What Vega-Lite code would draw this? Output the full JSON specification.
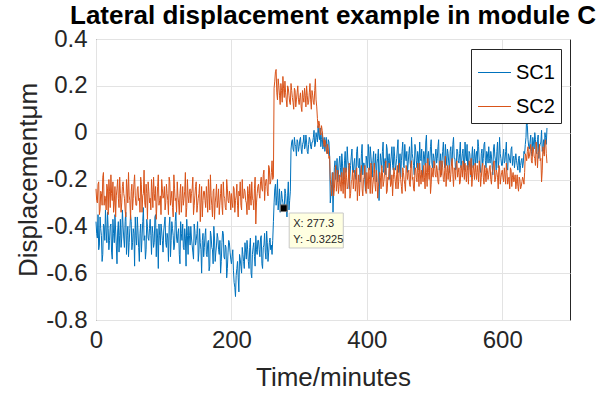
{
  "$schema": "https://vega.github.io/schema/vega-lite/v6.json",
  "width": 474,
  "height": 281,
  "autosize": {"type": "none"},
  "padding": {"left": 96, "top": 39, "right": 44, "bottom": 73},
  "background": "white",
  "title": {"text": "Lateral displacement example in module C", "font": "Liberation Sans", "fontSize": 26, "fontWeight": "bold", "color": "#000000", "anchor": "middle", "offset": -2},
  "config": {
    "view": {"stroke": "#262626", "strokeWidth": 1},
    "axis": {"labelFont": "Liberation Sans", "titleFont": "Liberation Sans", "labelFontSize": 24, "titleFontSize": 26, "titleFontWeight": "normal", "labelColor": "#262626", "titleColor": "#262626", "gridColor": "#e3e3e3", "gridWidth": 1, "domain": false, "ticks": false, "labelFlush": false},
    "legend": {"labelFont": "Liberation Sans"}
  },
  "layer": [
    {
      "data": {"values": [
{"t":0,"SC1":-0.38,"SC2":-0.24},{"t":2,"SC1":-0.45,"SC2":-0.30},{"t":4,"SC1":-0.50,"SC2":-0.21},{"t":6,"SC1":-0.36,"SC2":-0.33},{"t":8,"SC1":-0.44,"SC2":-0.26},{"t":10,"SC1":-0.52,"SC2":-0.19},{"t":12,"SC1":-0.40,"SC2":-0.31},{"t":14,"SC1":-0.33,"SC2":-0.28},{"t":16,"SC1":-0.47,"SC2":-0.22},{"t":18,"SC1":-0.41,"SC2":-0.35},
{"t":20,"SC1":-0.46,"SC2":-0.25},{"t":22,"SC1":-0.39,"SC2":-0.18},{"t":24,"SC1":-0.54,"SC2":-0.29},{"t":26,"SC1":-0.43,"SC2":-0.34},{"t":28,"SC1":-0.35,"SC2":-0.23},{"t":30,"SC1":-0.48,"SC2":-0.27},{"t":32,"SC1":-0.42,"SC2":-0.20},{"t":34,"SC1":-0.51,"SC2":-0.32},{"t":36,"SC1":-0.37,"SC2":-0.26},{"t":38,"SC1":-0.45,"SC2":-0.30},
{"t":40,"SC1":-0.40,"SC2":-0.21},{"t":42,"SC1":-0.49,"SC2":-0.28},{"t":44,"SC1":-0.34,"SC2":-0.36},{"t":46,"SC1":-0.44,"SC2":-0.24},{"t":48,"SC1":-0.53,"SC2":-0.17},{"t":50,"SC1":-0.41,"SC2":-0.29},{"t":52,"SC1":-0.38,"SC2":-0.25},{"t":54,"SC1":-0.47,"SC2":-0.33},{"t":56,"SC1":-0.43,"SC2":-0.22},{"t":58,"SC1":-0.36,"SC2":-0.27},
{"t":60,"SC1":-0.48,"SC2":-0.31},{"t":62,"SC1":-0.42,"SC2":-0.23},{"t":64,"SC1":-0.55,"SC2":-0.28},{"t":66,"SC1":-0.39,"SC2":-0.19},{"t":68,"SC1":-0.45,"SC2":-0.34},{"t":70,"SC1":-0.32,"SC2":-0.26},{"t":72,"SC1":-0.44,"SC2":-0.30},{"t":74,"SC1":-0.50,"SC2":-0.22},{"t":76,"SC1":-0.40,"SC2":-0.37},{"t":78,"SC1":-0.46,"SC2":-0.25},
{"t":80,"SC1":-0.37,"SC2":-0.28},{"t":82,"SC1":-0.52,"SC2":-0.20},{"t":84,"SC1":-0.43,"SC2":-0.32},{"t":86,"SC1":-0.47,"SC2":-0.26},{"t":88,"SC1":-0.35,"SC2":-0.23},{"t":90,"SC1":-0.41,"SC2":-0.30},{"t":92,"SC1":-0.58,"SC2":-0.18},{"t":94,"SC1":-0.44,"SC2":-0.29},{"t":96,"SC1":-0.39,"SC2":-0.35},{"t":98,"SC1":-0.46,"SC2":-0.24},
{"t":100,"SC1":-0.42,"SC2":-0.27},{"t":102,"SC1":-0.36,"SC2":-0.33},{"t":104,"SC1":-0.49,"SC2":-0.22},{"t":106,"SC1":-0.45,"SC2":-0.29},{"t":108,"SC1":-0.40,"SC2":-0.19},{"t":110,"SC1":-0.53,"SC2":-0.31},{"t":112,"SC1":-0.38,"SC2":-0.25},{"t":114,"SC1":-0.44,"SC2":-0.36},{"t":116,"SC1":-0.48,"SC2":-0.24},{"t":118,"SC1":-0.34,"SC2":-0.28},
{"t":120,"SC1":-0.47,"SC2":-0.21},{"t":122,"SC1":-0.41,"SC2":-0.30},{"t":124,"SC1":-0.56,"SC2":-0.26},{"t":126,"SC1":-0.43,"SC2":-0.34},{"t":128,"SC1":-0.39,"SC2":-0.23},{"t":130,"SC1":-0.50,"SC2":-0.28},{"t":132,"SC1":-0.45,"SC2":-0.17},{"t":134,"SC1":-0.37,"SC2":-0.32},{"t":136,"SC1":-0.52,"SC2":-0.27},{"t":138,"SC1":-0.44,"SC2":-0.25},
{"t":140,"SC1":-0.40,"SC2":-0.30},{"t":142,"SC1":-0.48,"SC2":-0.24},{"t":144,"SC1":-0.54,"SC2":-0.35},{"t":146,"SC1":-0.42,"SC2":-0.27},{"t":148,"SC1":-0.46,"SC2":-0.21},{"t":150,"SC1":-0.38,"SC2":-0.31},{"t":152,"SC1":-0.51,"SC2":-0.26},{"t":154,"SC1":-0.47,"SC2":-0.38},{"t":156,"SC1":-0.60,"SC2":-0.23},{"t":158,"SC1":-0.43,"SC2":-0.29},
{"t":160,"SC1":-0.49,"SC2":-0.25},{"t":162,"SC1":-0.41,"SC2":-0.32},{"t":164,"SC1":-0.53,"SC2":-0.28},{"t":166,"SC1":-0.46,"SC2":-0.20},{"t":168,"SC1":-0.57,"SC2":-0.33},{"t":170,"SC1":-0.44,"SC2":-0.27},{"t":172,"SC1":-0.50,"SC2":-0.36},{"t":174,"SC1":-0.40,"SC2":-0.24},{"t":176,"SC1":-0.55,"SC2":-0.30},{"t":178,"SC1":-0.48,"SC2":-0.22},
{"t":180,"SC1":-0.45,"SC2":-0.29},{"t":182,"SC1":-0.52,"SC2":-0.35},{"t":184,"SC1":-0.60,"SC2":-0.26},{"t":186,"SC1":-0.47,"SC2":-0.31},{"t":188,"SC1":-0.43,"SC2":-0.21},{"t":190,"SC1":-0.54,"SC2":-0.28},{"t":192,"SC1":-0.49,"SC2":-0.33},{"t":194,"SC1":-0.58,"SC2":-0.24},{"t":196,"SC1":-0.46,"SC2":-0.30},{"t":198,"SC1":-0.51,"SC2":-0.27},
{"t":200,"SC1":-0.56,"SC2":-0.26},{"t":202,"SC1":-0.50,"SC2":-0.32},{"t":204,"SC1":-0.64,"SC2":-0.24},{"t":206,"SC1":-0.70,"SC2":-0.29},{"t":208,"SC1":-0.58,"SC2":-0.22},{"t":210,"SC1":-0.62,"SC2":-0.36},{"t":212,"SC1":-0.52,"SC2":-0.27},{"t":214,"SC1":-0.57,"SC2":-0.31},{"t":216,"SC1":-0.49,"SC2":-0.20},{"t":218,"SC1":-0.55,"SC2":-0.28},
{"t":220,"SC1":-0.47,"SC2":-0.25},{"t":222,"SC1":-0.54,"SC2":-0.30},{"t":224,"SC1":-0.50,"SC2":-0.23},{"t":226,"SC1":-0.58,"SC2":-0.33},{"t":228,"SC1":-0.45,"SC2":-0.27},{"t":230,"SC1":-0.62,"SC2":-0.21},{"t":232,"SC1":-0.49,"SC2":-0.29},{"t":234,"SC1":-0.53,"SC2":-0.24},{"t":236,"SC1":-0.44,"SC2":-0.39},{"t":238,"SC1":-0.52,"SC2":-0.26},
{"t":240,"SC1":-0.46,"SC2":-0.22},{"t":242,"SC1":-0.53,"SC2":-0.28},{"t":244,"SC1":-0.44,"SC2":-0.19},{"t":246,"SC1":-0.58,"SC2":-0.25},{"t":248,"SC1":-0.48,"SC2":-0.16},{"t":250,"SC1":-0.51,"SC2":-0.23},{"t":252,"SC1":-0.42,"SC2":-0.20},{"t":254,"SC1":-0.55,"SC2":-0.27},{"t":256,"SC1":-0.47,"SC2":-0.15},{"t":258,"SC1":-0.50,"SC2":-0.21},
{"t":260,"SC1":-0.52,"SC2":-0.12},{"t":262,"SC1":-0.38,"SC2":-0.19},{"t":264,"SC1":-0.24,"SC2":0.22},{"t":266,"SC1":-0.31,"SC2":0.27},{"t":268,"SC1":-0.20,"SC2":0.14},{"t":270,"SC1":-0.29,"SC2":0.20},{"t":272,"SC1":-0.34,"SC2":0.12},{"t":274,"SC1":-0.25,"SC2":0.18},{"t":276,"SC1":-0.30,"SC2":0.24},{"t":278,"SC1":-0.33,"SC2":0.15},
{"t":280,"SC1":-0.26,"SC2":0.17},{"t":282,"SC1":-0.36,"SC2":0.11},{"t":284,"SC1":-0.21,"SC2":0.19},{"t":286,"SC1":-0.29,"SC2":0.13},{"t":288,"SC1":-0.07,"SC2":0.21},{"t":290,"SC1":-0.03,"SC2":0.15},{"t":292,"SC1":-0.08,"SC2":0.10},{"t":294,"SC1":-0.05,"SC2":0.18},{"t":296,"SC1":-0.10,"SC2":0.14},{"t":298,"SC1":-0.04,"SC2":0.20},
{"t":300,"SC1":-0.06,"SC2":0.12},{"t":302,"SC1":-0.02,"SC2":0.17},{"t":304,"SC1":-0.09,"SC2":0.09},{"t":306,"SC1":-0.04,"SC2":0.15},{"t":308,"SC1":-0.07,"SC2":0.19},{"t":310,"SC1":-0.01,"SC2":0.11},{"t":312,"SC1":-0.08,"SC2":0.16},{"t":314,"SC1":-0.05,"SC2":0.13},{"t":316,"SC1":-0.03,"SC2":0.21},{"t":318,"SC1":-0.07,"SC2":0.10},
{"t":320,"SC1":-0.04,"SC2":0.16},{"t":322,"SC1":0.01,"SC2":0.12},{"t":324,"SC1":-0.05,"SC2":0.23},{"t":326,"SC1":-0.02,"SC2":0.11},{"t":328,"SC1":0.03,"SC2":0.02},{"t":330,"SC1":-0.03,"SC2":0.04},{"t":332,"SC1":-0.06,"SC2":-0.01},{"t":334,"SC1":0.00,"SC2":0.01},{"t":336,"SC1":-0.05,"SC2":-0.04},{"t":338,"SC1":-0.08,"SC2":-0.03},
{"t":340,"SC1":-0.02,"SC2":-0.07},{"t":342,"SC1":-0.09,"SC2":-0.05},{"t":344,"SC1":-0.04,"SC2":-0.11},{"t":346,"SC1":-0.30,"SC2":-0.20},{"t":348,"SC1":-0.22,"SC2":-0.27},{"t":350,"SC1":-0.34,"SC2":-0.17},{"t":352,"SC1":-0.15,"SC2":-0.24},{"t":354,"SC1":-0.20,"SC2":-0.14},{"t":356,"SC1":-0.11,"SC2":-0.22},{"t":358,"SC1":-0.18,"SC2":-0.26},
{"t":360,"SC1":-0.10,"SC2":-0.18},{"t":362,"SC1":-0.19,"SC2":-0.25},{"t":364,"SC1":-0.13,"SC2":-0.21},{"t":366,"SC1":-0.22,"SC2":-0.15},{"t":368,"SC1":-0.08,"SC2":-0.28},{"t":370,"SC1":-0.16,"SC2":-0.19},{"t":372,"SC1":-0.12,"SC2":-0.23},{"t":374,"SC1":-0.24,"SC2":-0.13},{"t":376,"SC1":-0.14,"SC2":-0.26},{"t":378,"SC1":-0.07,"SC2":-0.20},
{"t":380,"SC1":-0.17,"SC2":-0.24},{"t":382,"SC1":-0.11,"SC2":-0.16},{"t":384,"SC1":-0.20,"SC2":-0.22},{"t":386,"SC1":-0.06,"SC2":-0.29},{"t":388,"SC1":-0.15,"SC2":-0.18},{"t":390,"SC1":-0.21,"SC2":-0.21},{"t":392,"SC1":-0.09,"SC2":-0.14},{"t":394,"SC1":-0.18,"SC2":-0.27},{"t":396,"SC1":-0.13,"SC2":-0.19},{"t":398,"SC1":-0.25,"SC2":-0.23},
{"t":400,"SC1":-0.12,"SC2":-0.17},{"t":402,"SC1":-0.05,"SC2":-0.24},{"t":404,"SC1":-0.16,"SC2":-0.20},{"t":406,"SC1":-0.10,"SC2":-0.13},{"t":408,"SC1":-0.19,"SC2":-0.26},{"t":410,"SC1":-0.08,"SC2":-0.19},{"t":412,"SC1":-0.14,"SC2":-0.22},{"t":414,"SC1":-0.21,"SC2":-0.16},{"t":416,"SC1":-0.11,"SC2":-0.28},{"t":418,"SC1":-0.29,"SC2":-0.21},
{"t":420,"SC1":-0.09,"SC2":-0.19},{"t":422,"SC1":-0.15,"SC2":-0.14},{"t":424,"SC1":-0.04,"SC2":-0.23},{"t":426,"SC1":-0.13,"SC2":-0.18},{"t":428,"SC1":-0.18,"SC2":-0.12},{"t":430,"SC1":-0.07,"SC2":-0.25},{"t":432,"SC1":-0.12,"SC2":-0.20},{"t":434,"SC1":-0.20,"SC2":-0.16},{"t":436,"SC1":-0.10,"SC2":-0.22},{"t":438,"SC1":-0.14,"SC2":-0.27},
{"t":440,"SC1":-0.06,"SC2":-0.15},{"t":442,"SC1":-0.16,"SC2":-0.21},{"t":444,"SC1":-0.11,"SC2":-0.18},{"t":446,"SC1":-0.03,"SC2":-0.24},{"t":448,"SC1":-0.13,"SC2":-0.13},{"t":450,"SC1":-0.19,"SC2":-0.20},{"t":452,"SC1":-0.08,"SC2":-0.26},{"t":454,"SC1":-0.14,"SC2":-0.17},{"t":456,"SC1":-0.05,"SC2":-0.22},{"t":458,"SC1":-0.12,"SC2":-0.14},
{"t":460,"SC1":-0.17,"SC2":-0.20},{"t":462,"SC1":-0.09,"SC2":-0.16},{"t":464,"SC1":-0.13,"SC2":-0.23},{"t":466,"SC1":-0.02,"SC2":-0.12},{"t":468,"SC1":-0.11,"SC2":-0.19},{"t":470,"SC1":-0.18,"SC2":-0.25},{"t":472,"SC1":-0.07,"SC2":-0.15},{"t":474,"SC1":-0.15,"SC2":-0.21},{"t":476,"SC1":-0.10,"SC2":-0.17},{"t":478,"SC1":-0.04,"SC2":-0.13},
{"t":480,"SC1":-0.12,"SC2":-0.22},{"t":482,"SC1":-0.19,"SC2":-0.18},{"t":484,"SC1":-0.08,"SC2":-0.14},{"t":486,"SC1":-0.14,"SC2":-0.24},{"t":488,"SC1":-0.01,"SC2":-0.17},{"t":490,"SC1":-0.10,"SC2":-0.11},{"t":492,"SC1":-0.16,"SC2":-0.20},{"t":494,"SC1":-0.06,"SC2":-0.26},{"t":496,"SC1":-0.13,"SC2":-0.15},{"t":498,"SC1":-0.09,"SC2":-0.19},
{"t":500,"SC1":-0.15,"SC2":-0.13},{"t":502,"SC1":-0.07,"SC2":-0.19},{"t":504,"SC1":-0.11,"SC2":-0.16},{"t":506,"SC1":-0.03,"SC2":-0.22},{"t":508,"SC1":-0.13,"SC2":-0.12},{"t":510,"SC1":-0.18,"SC2":-0.18},{"t":512,"SC1":-0.08,"SC2":-0.15},{"t":514,"SC1":-0.12,"SC2":-0.21},{"t":516,"SC1":-0.05,"SC2":-0.10},{"t":518,"SC1":-0.14,"SC2":-0.17},
{"t":520,"SC1":-0.09,"SC2":-0.20},{"t":522,"SC1":-0.17,"SC2":-0.14},{"t":524,"SC1":-0.06,"SC2":-0.18},{"t":526,"SC1":-0.12,"SC2":-0.11},{"t":528,"SC1":-0.02,"SC2":-0.23},{"t":530,"SC1":-0.11,"SC2":-0.16},{"t":532,"SC1":-0.15,"SC2":-0.13},{"t":534,"SC1":-0.08,"SC2":-0.19},{"t":536,"SC1":-0.13,"SC2":-0.15},{"t":538,"SC1":-0.04,"SC2":-0.21},
{"t":540,"SC1":-0.12,"SC2":-0.16},{"t":542,"SC1":-0.07,"SC2":-0.12},{"t":544,"SC1":-0.16,"SC2":-0.20},{"t":546,"SC1":-0.10,"SC2":-0.17},{"t":548,"SC1":-0.05,"SC2":-0.14},{"t":550,"SC1":-0.14,"SC2":-0.22},{"t":552,"SC1":-0.09,"SC2":-0.15},{"t":554,"SC1":-0.19,"SC2":-0.11},{"t":556,"SC1":-0.06,"SC2":-0.19},{"t":558,"SC1":-0.11,"SC2":-0.16},
{"t":560,"SC1":-0.14,"SC2":-0.13},{"t":562,"SC1":-0.08,"SC2":-0.20},{"t":564,"SC1":-0.03,"SC2":-0.17},{"t":566,"SC1":-0.12,"SC2":-0.12},{"t":568,"SC1":-0.17,"SC2":-0.23},{"t":570,"SC1":-0.07,"SC2":-0.15},{"t":572,"SC1":-0.11,"SC2":-0.19},{"t":574,"SC1":-0.04,"SC2":-0.14},{"t":576,"SC1":-0.15,"SC2":-0.21},{"t":578,"SC1":-0.09,"SC2":-0.16},
{"t":580,"SC1":-0.06,"SC2":-0.18},{"t":582,"SC1":-0.13,"SC2":-0.14},{"t":584,"SC1":-0.10,"SC2":-0.22},{"t":586,"SC1":-0.18,"SC2":-0.16},{"t":588,"SC1":-0.05,"SC2":-0.12},{"t":590,"SC1":-0.12,"SC2":-0.20},{"t":592,"SC1":-0.08,"SC2":-0.17},{"t":594,"SC1":-0.15,"SC2":-0.24},{"t":596,"SC1":-0.02,"SC2":-0.15},{"t":598,"SC1":-0.11,"SC2":-0.19},
{"t":600,"SC1":-0.14,"SC2":-0.16},{"t":602,"SC1":-0.07,"SC2":-0.21},{"t":604,"SC1":-0.12,"SC2":-0.18},{"t":606,"SC1":-0.04,"SC2":-0.13},{"t":608,"SC1":-0.16,"SC2":-0.22},{"t":610,"SC1":-0.10,"SC2":-0.19},{"t":612,"SC1":-0.13,"SC2":-0.15},{"t":614,"SC1":-0.06,"SC2":-0.23},{"t":616,"SC1":-0.11,"SC2":-0.17},{"t":618,"SC1":-0.15,"SC2":-0.20},
{"t":620,"SC1":-0.09,"SC2":-0.24},{"t":622,"SC1":-0.14,"SC2":-0.18},{"t":624,"SC1":-0.11,"SC2":-0.25},{"t":626,"SC1":-0.17,"SC2":-0.20},{"t":628,"SC1":-0.12,"SC2":-0.23},{"t":630,"SC1":-0.15,"SC2":-0.19},{"t":632,"SC1":-0.08,"SC2":-0.22},{"t":634,"SC1":-0.05,"SC2":-0.09},{"t":636,"SC1":0.07,"SC2":-0.12},{"t":638,"SC1":-0.03,"SC2":-0.06},
{"t":640,"SC1":-0.07,"SC2":-0.10},{"t":642,"SC1":-0.01,"SC2":-0.05},{"t":644,"SC1":-0.10,"SC2":-0.13},{"t":646,"SC1":-0.04,"SC2":-0.07},{"t":648,"SC1":0.00,"SC2":-0.11},{"t":650,"SC1":-0.08,"SC2":-0.04},{"t":652,"SC1":-0.03,"SC2":-0.15},{"t":654,"SC1":-0.11,"SC2":-0.08},{"t":656,"SC1":-0.05,"SC2":-0.12},{"t":658,"SC1":0.01,"SC2":-0.21},
{"t":660,"SC1":-0.06,"SC2":-0.06},{"t":662,"SC1":-0.09,"SC2":-0.10},{"t":664,"SC1":-0.02,"SC2":-0.03},{"t":666,"SC1":0.02,"SC2":-0.13},
{"t":1,"SC1":-0.43,"SC2":-0.29},{"t":3,"SC1":-0.35,"SC2":-0.22},{"t":5,"SC1":-0.48,"SC2":-0.35},{"t":7,"SC1":-0.41,"SC2":-0.25},{"t":9,"SC1":-0.55,"SC2":-0.31},{"t":11,"SC1":-0.39,"SC2":-0.17},{"t":13,"SC1":-0.46,"SC2":-0.27},{"t":15,"SC1":-0.42,"SC2":-0.33},{"t":17,"SC1":-0.34,"SC2":-0.24},{"t":19,"SC1":-0.50,"SC2":-0.20},
{"t":21,"SC1":-0.40,"SC2":-0.32},{"t":23,"SC1":-0.51,"SC2":-0.26},{"t":25,"SC1":-0.37,"SC2":-0.21},{"t":27,"SC1":-0.47,"SC2":-0.30},{"t":29,"SC1":-0.42,"SC2":-0.36},{"t":31,"SC1":-0.56,"SC2":-0.24},{"t":33,"SC1":-0.38,"SC2":-0.28},{"t":35,"SC1":-0.44,"SC2":-0.19},{"t":37,"SC1":-0.49,"SC2":-0.34},{"t":39,"SC1":-0.33,"SC2":-0.23},
{"t":41,"SC1":-0.45,"SC2":-0.26},{"t":43,"SC1":-0.38,"SC2":-0.33},{"t":45,"SC1":-0.52,"SC2":-0.20},{"t":47,"SC1":-0.40,"SC2":-0.30},{"t":49,"SC1":-0.47,"SC2":-0.27},{"t":51,"SC1":-0.35,"SC2":-0.37},{"t":53,"SC1":-0.50,"SC2":-0.22},{"t":55,"SC1":-0.41,"SC2":-0.28},{"t":57,"SC1":-0.57,"SC2":-0.18},{"t":59,"SC1":-0.44,"SC2":-0.31},
{"t":61,"SC1":-0.36,"SC2":-0.24},{"t":63,"SC1":-0.49,"SC2":-0.29},{"t":65,"SC1":-0.43,"SC2":-0.34},{"t":67,"SC1":-0.51,"SC2":-0.22},{"t":69,"SC1":-0.38,"SC2":-0.27},{"t":71,"SC1":-0.46,"SC2":-0.16},{"t":73,"SC1":-0.54,"SC2":-0.32},{"t":75,"SC1":-0.37,"SC2":-0.26},{"t":77,"SC1":-0.45,"SC2":-0.21},{"t":79,"SC1":-0.41,"SC2":-0.30},
{"t":81,"SC1":-0.44,"SC2":-0.33},{"t":83,"SC1":-0.40,"SC2":-0.25},{"t":85,"SC1":-0.49,"SC2":-0.19},{"t":87,"SC1":-0.36,"SC2":-0.29},{"t":89,"SC1":-0.53,"SC2":-0.37},{"t":91,"SC1":-0.45,"SC2":-0.23},{"t":93,"SC1":-0.39,"SC2":-0.31},{"t":95,"SC1":-0.48,"SC2":-0.27},{"t":97,"SC1":-0.42,"SC2":-0.20},{"t":99,"SC1":-0.51,"SC2":-0.28},
{"t":101,"SC1":-0.39,"SC2":-0.23},{"t":103,"SC1":-0.47,"SC2":-0.30},{"t":105,"SC1":-0.43,"SC2":-0.26},{"t":107,"SC1":-0.55,"SC2":-0.35},{"t":109,"SC1":-0.36,"SC2":-0.21},{"t":111,"SC1":-0.46,"SC2":-0.28},{"t":113,"SC1":-0.41,"SC2":-0.32},{"t":115,"SC1":-0.50,"SC2":-0.18},{"t":117,"SC1":-0.38,"SC2":-0.29},{"t":119,"SC1":-0.45,"SC2":-0.34},
{"t":121,"SC1":-0.43,"SC2":-0.27},{"t":123,"SC1":-0.52,"SC2":-0.35},{"t":125,"SC1":-0.38,"SC2":-0.22},{"t":127,"SC1":-0.46,"SC2":-0.29},{"t":129,"SC1":-0.49,"SC2":-0.31},{"t":131,"SC1":-0.41,"SC2":-0.25},{"t":133,"SC1":-0.57,"SC2":-0.36},{"t":135,"SC1":-0.44,"SC2":-0.20},{"t":137,"SC1":-0.40,"SC2":-0.30},{"t":139,"SC1":-0.48,"SC2":-0.24},
{"t":141,"SC1":-0.45,"SC2":-0.26},{"t":143,"SC1":-0.51,"SC2":-0.19},{"t":145,"SC1":-0.39,"SC2":-0.31},{"t":147,"SC1":-0.48,"SC2":-0.23},{"t":149,"SC1":-0.43,"SC2":-0.34},{"t":151,"SC1":-0.55,"SC2":-0.28},{"t":153,"SC1":-0.41,"SC2":-0.22},{"t":155,"SC1":-0.50,"SC2":-0.30},{"t":157,"SC1":-0.46,"SC2":-0.36},{"t":159,"SC1":-0.53,"SC2":-0.25},
{"t":161,"SC1":-0.44,"SC2":-0.29},{"t":163,"SC1":-0.52,"SC2":-0.23},{"t":165,"SC1":-0.47,"SC2":-0.34},{"t":167,"SC1":-0.59,"SC2":-0.26},{"t":169,"SC1":-0.42,"SC2":-0.18},{"t":171,"SC1":-0.49,"SC2":-0.31},{"t":173,"SC1":-0.56,"SC2":-0.25},{"t":175,"SC1":-0.45,"SC2":-0.37},{"t":177,"SC1":-0.51,"SC2":-0.27},{"t":179,"SC1":-0.43,"SC2":-0.32},
{"t":181,"SC1":-0.50,"SC2":-0.24},{"t":183,"SC1":-0.46,"SC2":-0.30},{"t":185,"SC1":-0.55,"SC2":-0.22},{"t":187,"SC1":-0.42,"SC2":-0.35},{"t":189,"SC1":-0.53,"SC2":-0.27},{"t":191,"SC1":-0.48,"SC2":-0.32},{"t":193,"SC1":-0.62,"SC2":-0.20},{"t":195,"SC1":-0.51,"SC2":-0.29},{"t":197,"SC1":-0.47,"SC2":-0.25},{"t":199,"SC1":-0.54,"SC2":-0.33},
{"t":201,"SC1":-0.53,"SC2":-0.30},{"t":203,"SC1":-0.59,"SC2":-0.23},{"t":205,"SC1":-0.66,"SC2":-0.34},{"t":207,"SC1":-0.61,"SC2":-0.27},{"t":209,"SC1":-0.55,"SC2":-0.31},{"t":211,"SC1":-0.68,"SC2":-0.25},{"t":213,"SC1":-0.54,"SC2":-0.21},{"t":215,"SC1":-0.60,"SC2":-0.33},{"t":217,"SC1":-0.52,"SC2":-0.28},{"t":219,"SC1":-0.58,"SC2":-0.24},
{"t":221,"SC1":-0.51,"SC2":-0.29},{"t":223,"SC1":-0.46,"SC2":-0.35},{"t":225,"SC1":-0.55,"SC2":-0.26},{"t":227,"SC1":-0.49,"SC2":-0.22},{"t":229,"SC1":-0.60,"SC2":-0.31},{"t":231,"SC1":-0.52,"SC2":-0.28},{"t":233,"SC1":-0.47,"SC2":-0.33},{"t":235,"SC1":-0.57,"SC2":-0.19},{"t":237,"SC1":-0.50,"SC2":-0.30},{"t":239,"SC1":-0.46,"SC2":-0.23},
{"t":241,"SC1":-0.50,"SC2":-0.26},{"t":243,"SC1":-0.45,"SC2":-0.21},{"t":245,"SC1":-0.56,"SC2":-0.24},{"t":247,"SC1":-0.49,"SC2":-0.18},{"t":249,"SC1":-0.43,"SC2":-0.29},{"t":251,"SC1":-0.54,"SC2":-0.20},{"t":253,"SC1":-0.47,"SC2":-0.25},{"t":255,"SC1":-0.51,"SC2":-0.14},{"t":257,"SC1":-0.45,"SC2":-0.22},{"t":259,"SC1":-0.48,"SC2":-0.17},
{"t":261,"SC1":-0.46,"SC2":-0.20},{"t":263,"SC1":-0.30,"SC2":0.19},{"t":265,"SC1":-0.22,"SC2":0.26},{"t":267,"SC1":-0.27,"SC2":0.17},{"t":269,"SC1":-0.33,"SC2":0.23},{"t":271,"SC1":-0.24,"SC2":0.16},{"t":273,"SC1":-0.30,"SC2":0.21},{"t":275,"SC1":-0.28,"SC2":0.13},{"t":277,"SC1":-0.32,"SC2":0.19},{"t":279,"SC1":-0.24,"SC2":0.22},
{"t":281,"SC1":-0.31,"SC2":0.14},{"t":283,"SC1":-0.27,"SC2":0.20},{"t":285,"SC1":-0.33,"SC2":0.16},{"t":287,"SC1":-0.25,"SC2":0.12},{"t":289,"SC1":-0.04,"SC2":0.18},{"t":291,"SC1":-0.07,"SC2":0.13},{"t":293,"SC1":-0.02,"SC2":0.19},{"t":295,"SC1":-0.06,"SC2":0.11},{"t":297,"SC1":-0.03,"SC2":0.17},{"t":299,"SC1":-0.08,"SC2":0.14},
{"t":301,"SC1":-0.03,"SC2":0.15},{"t":303,"SC1":-0.07,"SC2":0.11},{"t":305,"SC1":-0.05,"SC2":0.18},{"t":307,"SC1":-0.01,"SC2":0.13},{"t":309,"SC1":-0.06,"SC2":0.16},{"t":311,"SC1":-0.04,"SC2":0.20},{"t":313,"SC1":-0.09,"SC2":0.12},{"t":315,"SC1":-0.02,"SC2":0.17},{"t":317,"SC1":-0.06,"SC2":0.14},{"t":319,"SC1":-0.04,"SC2":0.18},
{"t":321,"SC1":-0.02,"SC2":0.13},{"t":323,"SC1":-0.06,"SC2":0.18},{"t":325,"SC1":0.00,"SC2":0.14},{"t":327,"SC1":-0.04,"SC2":0.06},{"t":329,"SC1":-0.01,"SC2":0.05},{"t":331,"SC1":0.02,"SC2":0.00},{"t":333,"SC1":-0.03,"SC2":0.03},{"t":335,"SC1":-0.07,"SC2":-0.02},{"t":337,"SC1":-0.02,"SC2":-0.06},{"t":339,"SC1":-0.05,"SC2":-0.04},
{"t":341,"SC1":-0.07,"SC2":-0.09},{"t":343,"SC1":-0.03,"SC2":-0.07},{"t":345,"SC1":-0.10,"SC2":-0.10},{"t":347,"SC1":-0.26,"SC2":-0.23},{"t":349,"SC1":-0.17,"SC2":-0.21},{"t":351,"SC1":-0.23,"SC2":-0.27},{"t":353,"SC1":-0.12,"SC2":-0.19},{"t":355,"SC1":-0.16,"SC2":-0.25},{"t":357,"SC1":-0.21,"SC2":-0.16},{"t":359,"SC1":-0.13,"SC2":-0.23},
{"t":361,"SC1":-0.15,"SC2":-0.22},{"t":363,"SC1":-0.09,"SC2":-0.17},{"t":365,"SC1":-0.20,"SC2":-0.26},{"t":367,"SC1":-0.12,"SC2":-0.20},{"t":369,"SC1":-0.17,"SC2":-0.15},{"t":371,"SC1":-0.06,"SC2":-0.24},{"t":373,"SC1":-0.14,"SC2":-0.18},{"t":375,"SC1":-0.19,"SC2":-0.28},{"t":377,"SC1":-0.10,"SC2":-0.21},{"t":379,"SC1":-0.16,"SC2":-0.16},
{"t":381,"SC1":-0.13,"SC2":-0.19},{"t":383,"SC1":-0.18,"SC2":-0.25},{"t":385,"SC1":-0.08,"SC2":-0.15},{"t":387,"SC1":-0.14,"SC2":-0.22},{"t":389,"SC1":-0.11,"SC2":-0.27},{"t":391,"SC1":-0.17,"SC2":-0.17},{"t":393,"SC1":-0.05,"SC2":-0.24},{"t":395,"SC1":-0.13,"SC2":-0.20},{"t":397,"SC1":-0.20,"SC2":-0.14},{"t":399,"SC1":-0.10,"SC2":-0.26},
{"t":401,"SC1":-0.15,"SC2":-0.21},{"t":403,"SC1":-0.10,"SC2":-0.15},{"t":405,"SC1":-0.06,"SC2":-0.26},{"t":407,"SC1":-0.14,"SC2":-0.18},{"t":409,"SC1":-0.12,"SC2":-0.22},{"t":411,"SC1":-0.17,"SC2":-0.13},{"t":413,"SC1":-0.09,"SC2":-0.25},{"t":415,"SC1":-0.13,"SC2":-0.19},{"t":417,"SC1":-0.07,"SC2":-0.23},{"t":419,"SC1":-0.16,"SC2":-0.17},
{"t":421,"SC1":-0.12,"SC2":-0.24},{"t":423,"SC1":-0.08,"SC2":-0.17},{"t":425,"SC1":-0.17,"SC2":-0.21},{"t":427,"SC1":-0.11,"SC2":-0.15},{"t":429,"SC1":-0.05,"SC2":-0.26},{"t":431,"SC1":-0.15,"SC2":-0.19},{"t":433,"SC1":-0.09,"SC2":-0.13},{"t":435,"SC1":-0.13,"SC2":-0.23},{"t":437,"SC1":-0.06,"SC2":-0.18},{"t":439,"SC1":-0.16,"SC2":-0.20},
{"t":441,"SC1":-0.10,"SC2":-0.18},{"t":443,"SC1":-0.14,"SC2":-0.24},{"t":445,"SC1":-0.07,"SC2":-0.14},{"t":447,"SC1":-0.17,"SC2":-0.21},{"t":449,"SC1":-0.09,"SC2":-0.17},{"t":451,"SC1":-0.12,"SC2":-0.23},{"t":453,"SC1":-0.04,"SC2":-0.15},{"t":455,"SC1":-0.15,"SC2":-0.20},{"t":457,"SC1":-0.10,"SC2":-0.25},{"t":459,"SC1":-0.08,"SC2":-0.16},
{"t":461,"SC1":-0.13,"SC2":-0.17},{"t":463,"SC1":-0.06,"SC2":-0.22},{"t":465,"SC1":-0.15,"SC2":-0.14},{"t":467,"SC1":-0.09,"SC2":-0.20},{"t":469,"SC1":-0.14,"SC2":-0.24},{"t":471,"SC1":-0.05,"SC2":-0.16},{"t":473,"SC1":-0.12,"SC2":-0.19},{"t":475,"SC1":-0.08,"SC2":-0.13},{"t":477,"SC1":-0.16,"SC2":-0.23},{"t":479,"SC1":-0.11,"SC2":-0.18},
{"t":481,"SC1":-0.07,"SC2":-0.16},{"t":483,"SC1":-0.14,"SC2":-0.21},{"t":485,"SC1":-0.10,"SC2":-0.19},{"t":487,"SC1":-0.04,"SC2":-0.13},{"t":489,"SC1":-0.13,"SC2":-0.23},{"t":491,"SC1":-0.08,"SC2":-0.17},{"t":493,"SC1":-0.12,"SC2":-0.14},{"t":495,"SC1":-0.03,"SC2":-0.22},{"t":497,"SC1":-0.15,"SC2":-0.18},{"t":499,"SC1":-0.11,"SC2":-0.12},
{"t":501,"SC1":-0.10,"SC2":-0.18},{"t":503,"SC1":-0.13,"SC2":-0.14},{"t":505,"SC1":-0.06,"SC2":-0.21},{"t":507,"SC1":-0.16,"SC2":-0.15},{"t":509,"SC1":-0.09,"SC2":-0.19},{"t":511,"SC1":-0.12,"SC2":-0.12},{"t":513,"SC1":-0.04,"SC2":-0.20},{"t":515,"SC1":-0.15,"SC2":-0.16},{"t":517,"SC1":-0.10,"SC2":-0.23},{"t":519,"SC1":-0.07,"SC2":-0.14},
{"t":521,"SC1":-0.13,"SC2":-0.16},{"t":523,"SC1":-0.08,"SC2":-0.21},{"t":525,"SC1":-0.14,"SC2":-0.13},{"t":527,"SC1":-0.05,"SC2":-0.18},{"t":529,"SC1":-0.11,"SC2":-0.15},{"t":531,"SC1":-0.16,"SC2":-0.20},{"t":533,"SC1":-0.07,"SC2":-0.12},{"t":535,"SC1":-0.12,"SC2":-0.17},{"t":537,"SC1":-0.09,"SC2":-0.22},{"t":539,"SC1":-0.15,"SC2":-0.14},
{"t":541,"SC1":-0.09,"SC2":-0.19},{"t":543,"SC1":-0.14,"SC2":-0.15},{"t":545,"SC1":-0.04,"SC2":-0.13},{"t":547,"SC1":-0.12,"SC2":-0.21},{"t":549,"SC1":-0.16,"SC2":-0.16},{"t":551,"SC1":-0.08,"SC2":-0.12},{"t":553,"SC1":-0.13,"SC2":-0.18},{"t":555,"SC1":-0.10,"SC2":-0.23},{"t":557,"SC1":-0.15,"SC2":-0.14},{"t":559,"SC1":-0.07,"SC2":-0.20},
{"t":561,"SC1":-0.10,"SC2":-0.17},{"t":563,"SC1":-0.13,"SC2":-0.14},{"t":565,"SC1":-0.06,"SC2":-0.21},{"t":567,"SC1":-0.15,"SC2":-0.16},{"t":569,"SC1":-0.09,"SC2":-0.19},{"t":571,"SC1":-0.14,"SC2":-0.13},{"t":573,"SC1":-0.05,"SC2":-0.22},{"t":575,"SC1":-0.12,"SC2":-0.17},{"t":577,"SC1":-0.08,"SC2":-0.15},{"t":579,"SC1":-0.13,"SC2":-0.20},
{"t":581,"SC1":-0.11,"SC2":-0.15},{"t":583,"SC1":-0.08,"SC2":-0.20},{"t":585,"SC1":-0.14,"SC2":-0.17},{"t":587,"SC1":-0.07,"SC2":-0.13},{"t":589,"SC1":-0.10,"SC2":-0.21},{"t":591,"SC1":-0.16,"SC2":-0.16},{"t":593,"SC1":-0.04,"SC2":-0.19},{"t":595,"SC1":-0.12,"SC2":-0.14},{"t":597,"SC1":-0.09,"SC2":-0.22},{"t":599,"SC1":-0.14,"SC2":-0.17},
{"t":601,"SC1":-0.10,"SC2":-0.19},{"t":603,"SC1":-0.13,"SC2":-0.15},{"t":605,"SC1":-0.08,"SC2":-0.22},{"t":607,"SC1":-0.15,"SC2":-0.17},{"t":609,"SC1":-0.09,"SC2":-0.20},{"t":611,"SC1":-0.12,"SC2":-0.24},{"t":613,"SC1":-0.07,"SC2":-0.16},{"t":615,"SC1":-0.14,"SC2":-0.19},{"t":617,"SC1":-0.10,"SC2":-0.21},{"t":619,"SC1":-0.12,"SC2":-0.18},
{"t":621,"SC1":-0.12,"SC2":-0.21},{"t":623,"SC1":-0.16,"SC2":-0.23},{"t":625,"SC1":-0.10,"SC2":-0.19},{"t":627,"SC1":-0.14,"SC2":-0.24},{"t":629,"SC1":-0.11,"SC2":-0.21},{"t":631,"SC1":-0.13,"SC2":-0.20},{"t":633,"SC1":-0.09,"SC2":-0.17},{"t":635,"SC1":-0.02,"SC2":-0.10},{"t":637,"SC1":0.03,"SC2":-0.08},{"t":639,"SC1":-0.06,"SC2":-0.11},
{"t":641,"SC1":-0.04,"SC2":-0.08},{"t":643,"SC1":-0.08,"SC2":-0.12},{"t":645,"SC1":-0.02,"SC2":-0.06},{"t":647,"SC1":-0.07,"SC2":-0.10},{"t":649,"SC1":-0.03,"SC2":-0.14},{"t":651,"SC1":-0.09,"SC2":-0.07},{"t":653,"SC1":-0.01,"SC2":-0.09},{"t":655,"SC1":-0.06,"SC2":-0.05},{"t":657,"SC1":-0.04,"SC2":-0.11},{"t":659,"SC1":-0.08,"SC2":-0.16},{"t":661,"SC1":-0.03,"SC2":-0.08},{"t":663,"SC1":0.00,"SC2":-0.04},{"t":665,"SC1":-0.05,"SC2":-0.09}
      ]},
      "transform": [{"fold": ["SC1", "SC2"], "as": ["series", "value"]}],
      "mark": {"type": "line", "strokeWidth": 1, "interpolate": "linear"},
      "encoding": {
        "x": {"field": "t", "type": "quantitative", "scale": {"domain": [0, 700], "nice": false, "zero": false},
              "axis": {"title": "Time/minutes", "values": [0, 200, 400, 600], "labelPadding": 8, "titlePadding": 12, "grid": true}},
        "y": {"field": "value", "type": "quantitative", "scale": {"domain": [-0.8, 0.4], "nice": false, "zero": false},
              "axis": {"title": "Displacementμm", "values": [-0.8, -0.6, -0.4, -0.2, 0, 0.2, 0.4], "labelPadding": 9, "titlePadding": 4, "grid": true,
                       "labelExpr": "datum.value == 0 ? '0' : replace(format(datum.value, '.1f'), '−', '-')"}},
        "order": {"field": "t", "type": "quantitative"},
        "color": {"field": "series", "type": "nominal", "scale": {"domain": ["SC1", "SC2"], "range": ["#0072BD", "#D95319"]},
                  "legend": {"title": null, "orient": "none", "legendX": 375, "legendY": 10, "symbolType": "stroke", "symbolSize": 1089, "symbolStrokeWidth": 1.2,
                             "labelFontSize": 20, "labelColor": "#000000", "labelOffset": 4, "rowPadding": 6, "padding": 6, "strokeColor": "#262626", "fillColor": "#ffffff"}}
      }
    },
    {
      "data": {"values": [{"x": 277.3, "y": -0.3225}]},
      "mark": {"type": "point", "shape": "square", "size": 45, "filled": true, "color": "#000000", "stroke": "#777777", "strokeWidth": 1, "opacity": 1},
      "encoding": {"x": {"field": "x", "type": "quantitative"}, "y": {"field": "y", "type": "quantitative"}}
    },
    {
      "data": {"values": [{"x1": 285.3, "x2": 365.2, "y1": -0.343, "y2": -0.4925}]},
      "mark": {"type": "rect", "fill": "#ffffe1", "stroke": "#c8c8c8", "strokeWidth": 1},
      "encoding": {"x": {"field": "x1", "type": "quantitative"}, "x2": {"field": "x2"}, "y": {"field": "y1", "type": "quantitative"}, "y2": {"field": "y2"}}
    },
    {
      "data": {"values": [{"x": 291.2, "y": -0.391, "label": "X: 277.3"}, {"x": 291.2, "y": -0.458, "label": "Y: -0.3225"}]},
      "mark": {"type": "text", "align": "left", "baseline": "middle", "font": "Liberation Sans", "fontSize": 11, "color": "#262626"},
      "encoding": {"x": {"field": "x", "type": "quantitative"}, "y": {"field": "y", "type": "quantitative"}, "text": {"field": "label"}}
    }
  ]
}
